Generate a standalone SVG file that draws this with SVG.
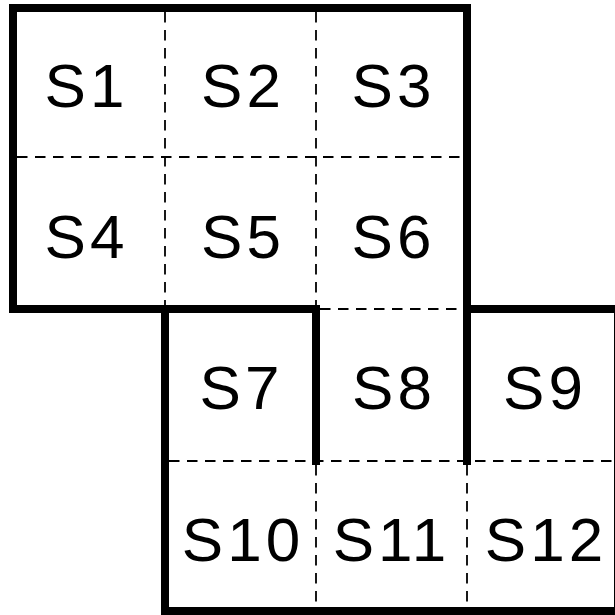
<svg xmlns="http://www.w3.org/2000/svg" width="615" height="615" viewBox="0 0 615 615">
<style>
.thick{fill:none;stroke:#000;stroke-width:8;stroke-linecap:square;stroke-linejoin:miter}
.dash{fill:none;stroke:#000;stroke-width:1.8;stroke-dasharray:10.5 7.5}
.lbl{font-family:"Liberation Sans",Arial,sans-serif;font-size:62px;fill:#000;text-anchor:middle;letter-spacing:4px}
</style>
<rect width="615" height="615" fill="#fff"/>
<g id="connectors">
<path class="dash" d="M165,12V305M316,12V305M316,465V607M467,465V607M17,157H463M169,461H614M320,309H463"/>
<path class="thick" d="M13,8H467V309H618V611H165V309H13Z"/>
<path class="thick" d="M165,309H316V461M467,309V461"/>
</g>
<g id="S1"><text class="lbl" x="86.5" y="107">S1</text></g>
<g id="S2"><text class="lbl" x="243" y="107">S2</text></g>
<g id="S3"><text class="lbl" x="393.5" y="107">S3</text></g>
<g id="S4"><text class="lbl" x="86.5" y="258">S4</text></g>
<g id="S5"><text class="lbl" x="243" y="258">S5</text></g>
<g id="S6"><text class="lbl" x="393.5" y="258">S6</text></g>
<g id="S7"><text class="lbl" x="241.5" y="409">S7</text></g>
<g id="S8"><text class="lbl" x="394" y="409">S8</text></g>
<g id="S9"><text class="lbl" x="545" y="409">S9</text></g>
<g id="S10"><text class="lbl" x="243" y="561">S10</text></g>
<g id="S11"><text class="lbl" x="391.5" y="561">S11</text></g>
<g id="S12"><text class="lbl" x="546" y="561">S12</text></g>
</svg>
